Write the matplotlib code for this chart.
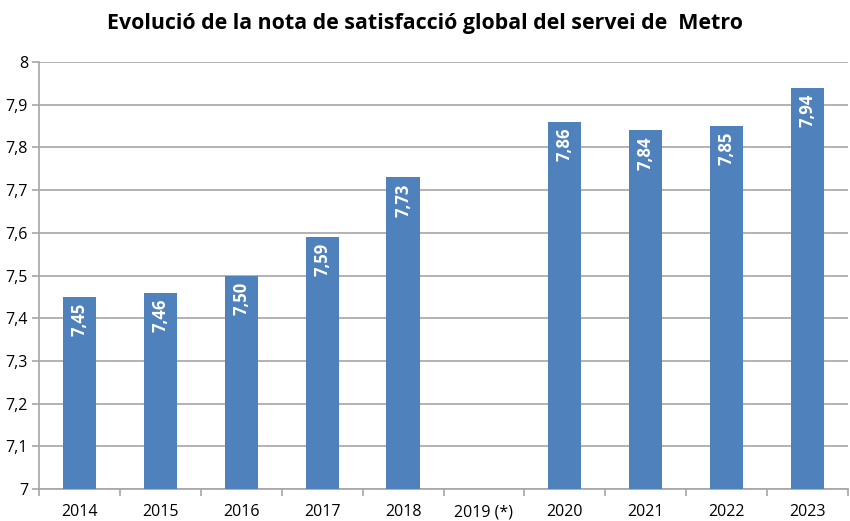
import matplotlib
matplotlib.use("Agg")
import matplotlib.pyplot as plt
import numpy as np

plt.rcParams['font.family'] = ['Open Sans', 'DejaVu Sans']

categories = ['2014', '2015', '2016', '2017', '2018', '2019 (*)', '2020', '2021', '2022', '2023']
values = [7.45, 7.46, 7.50, 7.59, 7.73, np.nan, 7.86, 7.84, 7.85, 7.94]
yticks = [7.0, 7.1, 7.2, 7.3, 7.4, 7.5, 7.6, 7.7, 7.8, 7.9, 8.0]
ytick_labels = ['7', '7,1', '7,2', '7,3', '7,4', '7,5', '7,6', '7,7', '7,8', '7,9', '8']

fig = plt.figure(figsize=(8.5, 5.21), dpi=100)
ax = fig.add_axes([0.0459, 0.0614, 0.9518, 0.8196])

x = np.arange(len(categories))
bar_color = '#4F81BD'
grid_color = '#A6A6A6'
ax.bar(x, np.nan_to_num(values, nan=7.0), width=0.41, color=bar_color, zorder=3)
ax.set_ylim(7.0, 8.0)
ax.set_xlim(-0.5, len(categories) - 0.5)

for xi, v in zip(x, values):
    if np.isnan(v):
        continue
    ax.text(xi, v - 0.014, f"{v:.2f}".replace('.', ','), rotation=90, ha='center', va='top',
            color='white', fontweight='bold', fontsize=12, zorder=4)

ax.set_yticks(yticks)
ax.set_yticklabels(ytick_labels, fontsize=11.5)
ax.set_xticks(x)
ax.set_xticklabels(categories, fontsize=11.5)
ax.set_xticks(np.arange(-0.5, len(categories), 1.0), minor=True)
ax.tick_params(axis='x', which='major', length=0, pad=11)
ax.tick_params(axis='x', which='minor', length=5, color=grid_color, width=1.2)
ax.tick_params(axis='y', length=5, color=grid_color, width=1.2, pad=3)

ax.yaxis.grid(True, color=grid_color, linewidth=1.2, zorder=0)
ax.set_axisbelow(True)
for s in ['top', 'right']:
    ax.spines[s].set_visible(False)
for s in ['left', 'bottom']:
    ax.spines[s].set_color(grid_color)
    ax.spines[s].set_linewidth(1.2)

fig.text(0.5, 0.955, 'Evolució de la nota de satisfacció global del servei de  Metro',
         ha='center', va='center', fontsize=15.4, fontweight='bold')

fig.savefig('out.png', dpi=100)
